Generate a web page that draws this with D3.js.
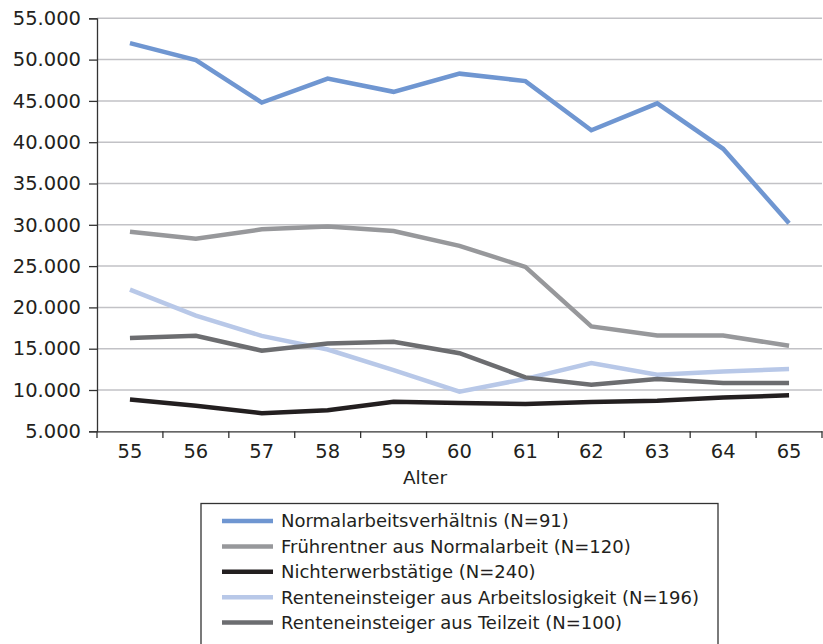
<!DOCTYPE html>
<html><head><meta charset="utf-8">
<script src="https://cdn.jsdelivr.net/npm/d3@7"></script>
<style>body{margin:0;background:#fff;} svg{display:block;}</style>
</head><body>
<svg id="c" width="823" height="644"></svg>
<script>
const ages = [55,56,57,58,59,60,61,62,63,64,65];
const yTicks = [5000,10000,15000,20000,25000,30000,35000,40000,45000,50000,55000];
const seriesNames = [
  "Normalarbeitsverhältnis (N=91)",
  "Frührentner aus Normalarbeit (N=120)",
  "Nichterwerbstätige (N=240)",
  "Renteneinsteiger aus Arbeitslosigkeit (N=196)",
  "Renteneinsteiger aus Teilzeit (N=100)"
];
const normalarbeit   = [52000,49950,44800,47700,46100,48300,47400,41450,44700,39200,30200];
const fruehrentner   = [29150,28300,29450,29800,29250,27450,24900,17700,16600,16600,15350];
const nichterwerb    = [8850,8100,7200,7550,8580,8420,8300,8550,8700,9100,9350];
const arbeitslos     = [22150,19000,16550,14900,12400,9800,11350,13250,11850,12250,12550];
const teilzeit       = [16300,16570,14760,15620,15850,14450,11530,10650,11330,10850,10850];
const seriesValues = [normalarbeit, fruehrentner, nichterwerb, arbeitslos, teilzeit];
const colors = ["#6f96d1","#97989b","#231f20","#b8c8e8","#6c6d70"];
const drawOrder = [0,1,3,4,2];

const svg = d3.select("#c");
const font = "DejaVu Sans";
const x = d3.scaleBand().domain(ages).range([97,822]);
const y = d3.scaleLinear().domain([5000,55000]).range([431.3,18.3]);
const fmt = v => d3.format(",")(v).replace(/,/g,".");

// gridlines
svg.append("g").selectAll("line").data(yTicks.filter(t=>t>5000)).join("line")
  .attr("x1",97).attr("x2",822).attr("y1",d=>y(d)).attr("y2",d=>y(d))
  .attr("stroke","#c2c2c6").attr("stroke-width",1.5);

// y axis
const yAxis = svg.append("g").attr("transform","translate(97,0)")
  .call(d3.axisLeft(y).tickValues(yTicks).tickFormat(fmt).tickSize(8).tickPadding(8));
yAxis.select(".domain").attr("stroke","#333").attr("stroke-width",1.3);
yAxis.selectAll(".tick line").attr("stroke","#333").attr("stroke-width",1.3);
yAxis.selectAll("text").attr("font-family",font).attr("font-size",19.5).attr("fill","#231f20");

// x axis
const xAxis = svg.append("g").attr("transform","translate(0,431.3)")
  .call(d3.axisBottom(x).tickSize(0).tickPadding(13));
xAxis.select(".domain").attr("stroke","#333").attr("stroke-width",1.3);
xAxis.selectAll("text").attr("font-family",font).attr("font-size",19.5).attr("fill","#231f20");
svg.append("g").selectAll("line").data(ages.map((a,i)=>i).concat([ages.length])).join("line")
  .attr("x1",i=>97+i*x.step()).attr("x2",i=>97+i*x.step())
  .attr("y1",431.3).attr("y2",438).attr("stroke","#333").attr("stroke-width",1.3);

svg.append("text").attr("x",425).attr("y",484).attr("text-anchor","middle")
  .attr("font-family",font).attr("font-size",18.5).attr("fill","#231f20").text("Alter");

// lines
const line = d3.line().x((d,i)=>x(ages[i])+x.bandwidth()/2).y(d=>y(d));
svg.append("g").selectAll("path").data(drawOrder).join("path")
  .attr("d",k=>line(seriesValues[k])).attr("fill","none")
  .attr("stroke",k=>colors[k]).attr("stroke-width",4.5)
  .attr("stroke-linejoin","miter").attr("stroke-linecap","butt");

// legend
svg.append("rect").attr("x",201).attr("y",503.5).attr("width",517).attr("height",160)
  .attr("fill","#fff").attr("stroke","#333").attr("stroke-width",1.3);
const lg = svg.append("g").selectAll("g").data(seriesNames).join("g")
  .attr("transform",(d,i)=>`translate(0,${521+i*25.4})`);
lg.append("line").attr("x1",222).attr("x2",273).attr("y1",0).attr("y2",0)
  .attr("stroke",(d,i)=>colors[i]).attr("stroke-width",4.5);
lg.append("text").attr("x",281).attr("y",0).attr("dy","0.36em")
  .attr("font-family",font).attr("font-size",18).attr("fill","#231f20").text(d=>d);
</script>
</body></html>
